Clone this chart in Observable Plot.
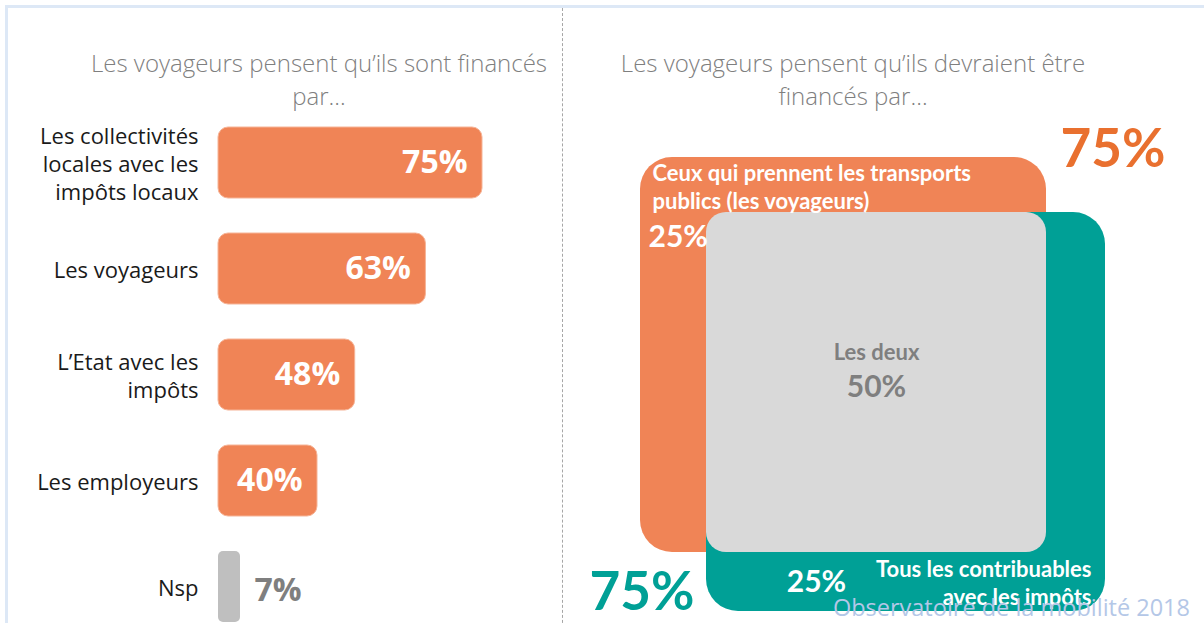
<!DOCTYPE html>
<html><head><meta charset="utf-8">
<script src="https://cdn.jsdelivr.net/npm/d3@7"></script>
<script src="https://cdn.jsdelivr.net/npm/@observablehq/plot@0.6"></script>
<style>
body{margin:0;background:#fff;}
#wrap{position:relative;width:1204px;height:623px;overflow:hidden;background:#fff;font-family:"Open Sans",sans-serif;}
#wrap svg{position:absolute;left:0;top:0;}
#frame{position:absolute;left:5px;top:5px;width:1300px;height:700px;border-top:3px solid #dde8f6;border-left:3px solid #dde8f6;}
#divider{position:absolute;left:562px;top:8px;height:640px;border-left:1px dashed #a6a6a6;}
.title{position:absolute;top:46px;color:#7f7f7f;font-family:"Open Sans",sans-serif;font-weight:300;font-size:24px;line-height:33px;text-align:center;white-space:nowrap;transform:translateX(-50%);}
#src{position:absolute;right:14px;top:591px;color:#b4c7e7;font-family:"Open Sans",sans-serif;font-size:23.5px;z-index:5;white-space:nowrap;}
</style></head><body>
<div id="wrap">
<div id="frame"></div>
<div id="divider"></div>
<div class="title" id="t1" style="left:319px"></div>
<div class="title" id="t2" style="left:853px"></div>
<div id="src"></div>
</div>
<script>
// ---- Data ----
const titleLeft = "Les voyageurs pensent qu’ils sont financés<br>par…";
const titleRight = "Les voyageurs pensent qu’ils devraient être<br>financés par…";
const source = "Observatoire de la mobilité 2018";

const categories = ["Les collectivités\nlocales avec les\nimpôts locaux", "Les voyageurs", "L’Etat avec les\nimpôts", "Les employeurs", "Nsp"];
const shares = [75, 63, 48, 40, 7];
const shareLabels = ["75%", "63%", "48%", "40%", "7%"];

const vennParts = ["Ceux qui prennent les transports\npublics (les voyageurs)", "Les deux", "Tous les contribuables\navec les impôts"];
const vennShares = [25, 50, 25];
const vennShareLabels = ["25%", "50%", "25%"];
const setTotals = [75, 75];
const setTotalLabels = ["75%", "75%"];

// ---- Colors / fonts ----
const orange = "#F08456", teal = "#00A096", lightGray = "#D9D9D9", midGray = "#BFBFBF", textGray = "#7F7F7F";
const segoe = "'Open Sans', 'Noto Sans', sans-serif";
const calibri = "Lato, 'Open Sans', sans-serif";

document.getElementById("t1").innerHTML = titleLeft;
document.getElementById("t2").innerHTML = titleRight;
document.getElementById("src").textContent = source;

const wrap = document.getElementById("wrap");

// ---- Left: bar chart ----
const barData = categories.map((c, i) => ({cat: c, value: shares[i], label: shareLabels[i], nsp: c === "Nsp"}));
const main = barData.filter(d => !d.nsp), nsp = barData.filter(d => d.nsp);

const left = Plot.plot({
  width: 1204, height: 623,
  style: {background: "transparent", overflow: "hidden"},
  x: {type: "linear", domain: [0, 7, 40, 75], range: [218, 240, 317, 482], axis: null},
  y: {type: "band", domain: categories, range: [109, 640], paddingInner: 0.33, paddingOuter: 0.165, axis: null},
  marks: [
    Plot.barX(main, {x1: d => 0, x2: "value", y: "cat", fill: orange, rx: 10, stroke: "#f6b497", strokeWidth: 1}),
    Plot.barX(nsp, {x1: d => 0, x2: "value", y: "cat", fill: midGray, rx: 5}),
    Plot.text(main, {x: "value", y: "cat", text: "label", textAnchor: "end", dx: -15, fill: "white", fontSize: 32, fontWeight: "bold", fontFamily: segoe}),
    Plot.text(nsp, {x: "value", y: "cat", text: "label", textAnchor: "start", dx: 14, dy: 4, fill: textGray, fontSize: 32, fontWeight: "bold", fontFamily: segoe}),
    Plot.text(barData, {x: d => 0, y: "cat", text: "cat", textAnchor: "end", dx: -20, fill: "#1a1a1a", fontSize: 22, lineHeight: 1.26, fontFamily: segoe})
  ]
});
wrap.appendChild(left);

// ---- Right: overlapping sets ----
const s0 = vennShares[0], s1 = vennShares[1], s2 = vennShares[2];
const total = s0 + s1 + s2;
const rects = [
  {name: vennParts[0], x1: 0, x2: s0 + s1, y1: 0, y2: s0 + s1},
  {name: vennParts[2], x1: s0, x2: total, y1: s0, y2: total},
  {name: vennParts[1], x1: s0, x2: s0 + s1, y1: s0, y2: s0 + s1}
];
const midLow = (s0 + s1 + total) / 2;

const right = Plot.plot({
  width: 1204, height: 623,
  style: {background: "transparent", overflow: "hidden"},
  x: {type: "linear", domain: [0, s0, s0 + s1, total], range: [640, 706, 1046, 1105], axis: null},
  y: {type: "linear", domain: [0, s0, s0 + s1, total], range: [157, 212, 552, 611], axis: null},
  marks: [
    Plot.rect([rects[0]], {x1: "x1", x2: "x2", y1: "y1", y2: "y2", fill: orange, rx: 32}),
    Plot.rect([rects[1]], {x1: "x1", x2: "x2", y1: "y1", y2: "y2", fill: teal, rx: 32}),
    Plot.rect([rects[2]], {x1: "x1", x2: "x2", y1: "y1", y2: "y2", fill: lightGray, rx: 20}),
    // set A label
    Plot.text([vennParts[0]], {x: d => 0, y: d => 0, text: d => d, textAnchor: "start", lineAnchor: "top", dx: 12, dy: 4, lineHeight: 1.27, fill: "white", fontSize: 22, fontWeight: "bold", fontFamily: calibri}),
    Plot.text([vennShareLabels[0]], {x: d => 0, y: d => s0, text: d => d, textAnchor: "start", dx: 8, dy: 25, fill: "white", fontSize: 30, fontWeight: "bold", fontFamily: calibri}),
    // both
    Plot.text([vennParts[1]], {x: d => s0 + s1 / 2, y: d => s0 + s1 / 2, text: d => d, dy: -30, fill: textGray, fontSize: 22, fontWeight: "bold", fontFamily: calibri}),
    Plot.text([vennShareLabels[1]], {x: d => s0 + s1 / 2, y: d => s0 + s1 / 2, text: d => d, dy: 5, fill: textGray, fontSize: 30, fontWeight: "bold", fontFamily: calibri}),
    // set B
    Plot.text([vennShareLabels[2]], {x: d => s0, y: d => midLow, text: d => d, dx: 110, fill: "white", fontSize: 30, fontWeight: "bold", fontFamily: calibri}),
    Plot.text([vennParts[2]], {x: d => total, y: d => midLow, text: d => d, textAnchor: "end", dx: -14, lineHeight: 1.27, fill: "white", fontSize: 22, fontWeight: "bold", fontFamily: calibri}),
    // totals
    Plot.text([setTotalLabels[0]], {x: d => setTotals[0], y: d => 0, text: d => d, textAnchor: "start", dx: 14, dy: -7, fill: "#E9702F", fontSize: 53, fontWeight: "bold", fontFamily: calibri}),
    Plot.text([setTotalLabels[1]], {x: d => total - setTotals[1], y: d => total, text: d => d, textAnchor: "end", dx: -12, dy: -18, fill: teal, fontSize: 53, fontWeight: "bold", fontFamily: calibri})
  ]
});
wrap.appendChild(right);
</script>
</body></html>
